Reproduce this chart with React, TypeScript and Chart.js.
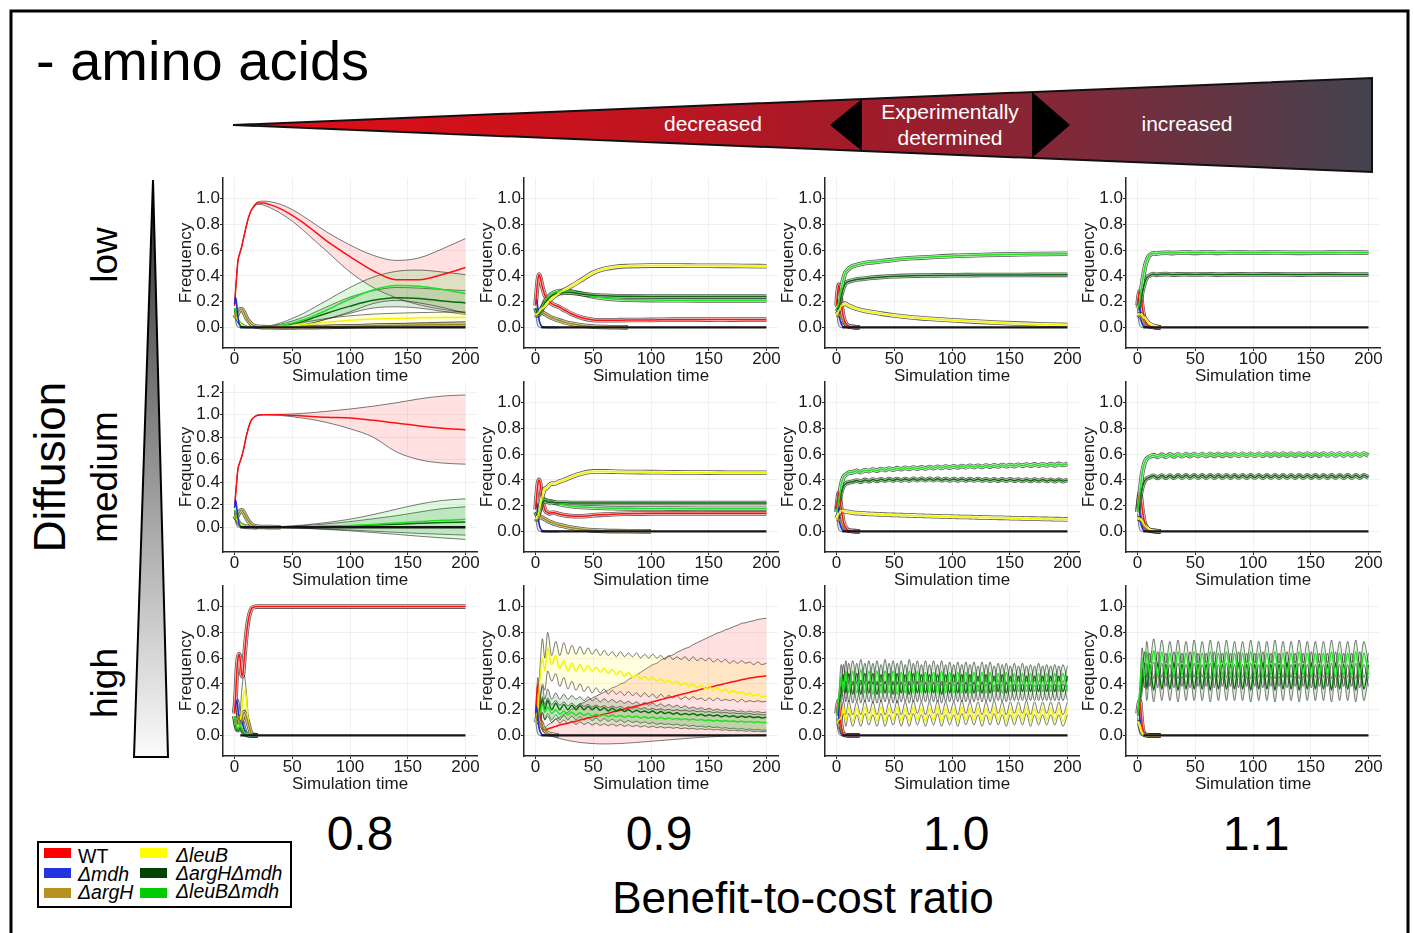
import React, { useEffect, useRef } from 'react';
import { Chart, registerables } from 'chart.js';

Chart.register(...registerables);

const FONT = 'Arial, "Liberation Sans", Helvetica, sans-serif';
Chart.defaults.font.family = FONT;

// ---------- tick labels ----------
const X_TICKS = [0, 50, 100, 150, 200];
const Y_TICKS = [0, 0.2, 0.4, 0.6, 0.8, 1.0];
const Y_TICKS_TALL = [0, 0.2, 0.4, 0.6, 0.8, 1.0, 1.2];
const RATIOS = ['0.8', '0.9', '1.0', '1.1'];
const DIFFUSION = ['low', 'medium', 'high'];

// ---------- time grids ----------
const TS = [0, 1, 2, 3, 4, 5, 6, 7, 8, 9, 10, 12, 14, 16, 20, 25, 30, 40, 50, 60, 70, 80, 100, 120, 140, 160, 180, 200];
const TE = [0, 1, 2, 3, 4, 5, 6, 8, 10, 15, 20];
const TO = [0, 2, 4, 6, 8, 10.5, 14, 17.5, 21, 24.5, 28, 31.5, 35, 38.5, 42, 45.5, 49, 52.5, 56, 59.5,
  63, 66.5, 70, 73.5, 77, 80.5, 84, 87.5, 91, 94.5, 98, 101.5, 105, 108.5, 112, 115.5, 119, 122.5, 126, 129.5,
  133, 136.5, 140, 143.5, 147, 150.5, 154, 157.5, 161, 164.5, 168, 171.5, 175, 178.5, 182, 185.5, 189, 192.5, 196, 200];

// extinct strains sit at frequency 0 once they have died out
const EXTINCT_T = [5, 200];
const EXTINCT = [0, 0];

// ---------- strains ----------
const STRAINS = ['WT', 'Δmdh', 'ΔargH', 'ΔleuB', 'ΔargHΔmdh', 'ΔleuBΔmdh'];
const LEGEND_COLORS = ['#ff0000', '#2233e0', '#b8911e', '#ffff00', '#004400', '#00cc00'];
const COLORS: Record<string, string> = { WT: '#ff1010', MD: '#1d2de0', AH: '#9c8a18', LB: '#f4f400', AM: '#0b6a0b', LM: '#22e022', Z: '#151515' };
const FILLS: Record<string, string> = { WT: 'rgba(255,40,40,0.14)', MD: 'rgba(30,50,230,0.12)', AH: 'rgba(170,140,30,0.14)', LB: 'rgba(255,255,0,0.13)', AM: 'rgba(0,110,0,0.14)', LM: 'rgba(0,210,0,0.13)' };
const TINTS: Record<string, string> = { WT: '#ffcccc', MD: '#c8ccff', AH: '#e2d9a6', LB: '#fffcc0', AM: '#b4d4b4', LM: '#c0f6c0' };

// ---------- shared early-dying series (TE grid) ----------
const MD_TE = [0.18, 0.22, 0.14, 0.06, 0.03, 0.012, 0.005, 0.001, 0, 0, 0];
const MD_TE_HI = [0.18, 0.235, 0.15, 0.07, 0.035, 0.014, 0.006, 0.001, 0, 0, 0];
const MD_TE_LO = [0.14, 0.05, 0.012, 0.003, 0, 0, 0, 0, 0, 0, 0];

// ---------- panel A: low diffusion, 0.8 ----------
const A_WT = [0.17, 0.3, 0.42, 0.52, 0.56, 0.59, 0.62, 0.66, 0.7, 0.74, 0.78, 0.85, 0.9, 0.93, 0.965, 0.965, 0.955, 0.92, 0.87, 0.81, 0.74, 0.67, 0.55, 0.44, 0.37, 0.37, 0.41, 0.465];
const A_WT_HI = [0.17, 0.3, 0.42, 0.52, 0.56, 0.59, 0.62, 0.66, 0.7, 0.74, 0.78, 0.85, 0.9, 0.935, 0.975, 0.98, 0.977, 0.955, 0.915, 0.86, 0.8, 0.74, 0.64, 0.56, 0.52, 0.54, 0.61, 0.69];
const A_WT_LO = [0.17, 0.3, 0.42, 0.52, 0.56, 0.59, 0.62, 0.66, 0.7, 0.74, 0.78, 0.85, 0.9, 0.925, 0.955, 0.95, 0.933, 0.885, 0.825, 0.75, 0.67, 0.59, 0.43, 0.31, 0.23, 0.175, 0.14, 0.115];
const A_LM = [0.15, 0.12, 0.08, 0.06, 0.05, 0.04, 0.03, 0.025, 0.02, 0.015, 0.01, 0.007, 0.005, 0.004, 0.003, 0.003, 0.005, 0.014, 0.033, 0.06, 0.095, 0.135, 0.22, 0.29, 0.325, 0.32, 0.295, 0.262];
const A_LM_HI = [0.15, 0.12, 0.08, 0.06, 0.05, 0.04, 0.03, 0.025, 0.02, 0.015, 0.01, 0.007, 0.005, 0.004, 0.004, 0.006, 0.012, 0.035, 0.07, 0.11, 0.16, 0.21, 0.31, 0.39, 0.435, 0.445, 0.43, 0.41];
const A_LM_LO = [0.15, 0.12, 0.08, 0.06, 0.05, 0.04, 0.03, 0.025, 0.02, 0.015, 0.01, 0.007, 0.005, 0.004, 0.002, 0.001, 0.001, 0.004, 0.01, 0.02, 0.04, 0.065, 0.12, 0.185, 0.21, 0.19, 0.155, 0.11];
const A_AM = [0.15, 0.1, 0.06, 0.04, 0.03, 0.02, 0.015, 0.01, 0.008, 0.006, 0.005, 0.004, 0.003, 0.003, 0.002, 0.003, 0.005, 0.012, 0.03, 0.05, 0.08, 0.11, 0.165, 0.21, 0.23, 0.225, 0.205, 0.19];
const A_AM_HI = [0.15, 0.1, 0.06, 0.04, 0.03, 0.02, 0.015, 0.01, 0.008, 0.006, 0.005, 0.004, 0.003, 0.003, 0.003, 0.005, 0.01, 0.025, 0.05, 0.08, 0.12, 0.16, 0.235, 0.285, 0.31, 0.305, 0.295, 0.285];
const A_AM_LO = [0.15, 0.1, 0.06, 0.04, 0.03, 0.02, 0.015, 0.01, 0.008, 0.006, 0.005, 0.004, 0.003, 0.003, 0.001, 0.001, 0.001, 0.003, 0.01, 0.02, 0.04, 0.065, 0.11, 0.15, 0.16, 0.15, 0.125, 0.1];
const A_LB = [0.1, 0.09, 0.07, 0.05, 0.04, 0.03, 0.02, 0.015, 0.01, 0.008, 0.006, 0.004, 0.003, 0.002, 0.002, 0.002, 0.003, 0.006, 0.012, 0.02, 0.03, 0.04, 0.055, 0.065, 0.07, 0.074, 0.077, 0.078];
const A_LB_HI = [0.1, 0.09, 0.07, 0.05, 0.04, 0.03, 0.02, 0.015, 0.01, 0.008, 0.006, 0.004, 0.003, 0.002, 0.003, 0.004, 0.006, 0.012, 0.025, 0.04, 0.055, 0.07, 0.09, 0.103, 0.11, 0.115, 0.118, 0.12];
const A_LB_LO = [0.1, 0.09, 0.07, 0.05, 0.04, 0.03, 0.02, 0.015, 0.01, 0.008, 0.006, 0.004, 0.003, 0.002, 0.001, 0.001, 0.001, 0.002, 0.004, 0.006, 0.01, 0.014, 0.02, 0.025, 0.03, 0.035, 0.04, 0.045];
const A_AH = [0.1, 0.085, 0.09, 0.11, 0.13, 0.14, 0.14, 0.135, 0.12, 0.1, 0.08, 0.05, 0.03, 0.015, 0.005, 0.002, 0.001, 0, 0, 0.001, 0.002, 0.004, 0.008, 0.012, 0.015, 0.018, 0.02, 0.021];
const A_MD = [0.18, 0.23, 0.17, 0.08, 0.03, 0.01, 0.004, 0.001, 0, 0, 0];

// ---------- panel B: low diffusion, 0.9 ----------
const B_LB = [0.1, 0.1, 0.11, 0.12, 0.13, 0.14, 0.15, 0.16, 0.17, 0.18, 0.19, 0.21, 0.225, 0.24, 0.265, 0.29, 0.315, 0.37, 0.425, 0.455, 0.47, 0.476, 0.48, 0.48, 0.479, 0.478, 0.477, 0.475];
const B_LM = [0.15, 0.13, 0.11, 0.11, 0.12, 0.14, 0.16, 0.18, 0.2, 0.215, 0.225, 0.245, 0.26, 0.27, 0.28, 0.285, 0.28, 0.26, 0.24, 0.226, 0.218, 0.215, 0.212, 0.211, 0.21, 0.21, 0.21, 0.21];
const B_AM = [0.15, 0.12, 0.1, 0.1, 0.11, 0.13, 0.15, 0.17, 0.19, 0.2, 0.21, 0.23, 0.245, 0.255, 0.265, 0.27, 0.27, 0.26, 0.25, 0.245, 0.242, 0.241, 0.24, 0.24, 0.24, 0.24, 0.24, 0.24];
const B_WT = [0.17, 0.28, 0.37, 0.41, 0.39, 0.35, 0.31, 0.28, 0.25, 0.235, 0.22, 0.2, 0.185, 0.175, 0.16, 0.135, 0.11, 0.075, 0.058, 0.055, 0.056, 0.057, 0.058, 0.06, 0.06, 0.061, 0.06, 0.06];
const B_AH = [0.1, 0.09, 0.09, 0.1, 0.11, 0.115, 0.115, 0.11, 0.105, 0.1, 0.095, 0.085, 0.075, 0.068, 0.055, 0.042, 0.03, 0.015, 0.007, 0.003, 0.001, 0];

// ---------- panel C: low diffusion, 1.0 ----------
const C_LM = [0.15, 0.16, 0.2, 0.25, 0.3, 0.34, 0.38, 0.41, 0.43, 0.44, 0.45, 0.465, 0.475, 0.48, 0.49, 0.5, 0.505, 0.515, 0.525, 0.535, 0.54, 0.545, 0.555, 0.56, 0.565, 0.568, 0.57, 0.572];
const C_AM = [0.15, 0.14, 0.16, 0.2, 0.25, 0.28, 0.31, 0.33, 0.345, 0.35, 0.355, 0.36, 0.365, 0.37, 0.375, 0.38, 0.385, 0.392, 0.397, 0.4, 0.402, 0.403, 0.405, 0.406, 0.407, 0.407, 0.408, 0.408];
const C_LB = [0.1, 0.11, 0.13, 0.15, 0.165, 0.175, 0.18, 0.185, 0.183, 0.178, 0.172, 0.163, 0.155, 0.148, 0.138, 0.128, 0.12, 0.105, 0.093, 0.083, 0.074, 0.067, 0.055, 0.045, 0.036, 0.029, 0.023, 0.018];
const C_WT = [0.17, 0.28, 0.33, 0.28, 0.2, 0.13, 0.08, 0.03, 0.012, 0.002, 0];
const C_AH = [0.1, 0.1, 0.1, 0.09, 0.075, 0.06, 0.045, 0.025, 0.012, 0.003, 0];

// ---------- panel D: low diffusion, 1.1 ----------
const D_LM = [0.15, 0.17, 0.22, 0.28, 0.34, 0.4, 0.45, 0.49, 0.52, 0.54, 0.555, 0.57, 0.576, 0.572, 0.578, 0.58, 0.577, 0.582, 0.579, 0.582, 0.579, 0.581, 0.58, 0.581, 0.579, 0.58, 0.581, 0.58];
const D_AM = [0.15, 0.15, 0.18, 0.22, 0.27, 0.31, 0.34, 0.37, 0.385, 0.395, 0.4, 0.41, 0.414, 0.408, 0.412, 0.414, 0.41, 0.413, 0.411, 0.413, 0.41, 0.412, 0.411, 0.412, 0.41, 0.412, 0.411, 0.411];
const D_WT = [0.17, 0.25, 0.28, 0.24, 0.17, 0.11, 0.07, 0.03, 0.012, 0.002, 0];
const D_LB = [0.1, 0.1, 0.1, 0.1, 0.095, 0.085, 0.075, 0.05, 0.03, 0.008, 0];
const D_AH = [0.1, 0.095, 0.09, 0.08, 0.065, 0.05, 0.04, 0.02, 0.01, 0.002, 0];

// ---------- panel E: medium diffusion, 0.8 ----------
const E_WT = [0.17, 0.3, 0.42, 0.52, 0.56, 0.59, 0.62, 0.66, 0.7, 0.75, 0.8, 0.88, 0.94, 0.97, 0.995, 1, 1, 0.998, 0.993, 0.988, 0.982, 0.976, 0.97, 0.95, 0.925, 0.9, 0.88, 0.866];
const E_WT_HI = [0.17, 0.3, 0.42, 0.52, 0.56, 0.59, 0.62, 0.66, 0.7, 0.75, 0.8, 0.88, 0.94, 0.97, 0.997, 1.001, 1.002, 1.003, 1.006, 1.012, 1.02, 1.03, 1.05, 1.075, 1.105, 1.14, 1.165, 1.175];
const E_WT_LO = [0.17, 0.3, 0.42, 0.52, 0.56, 0.59, 0.62, 0.66, 0.7, 0.75, 0.8, 0.88, 0.94, 0.97, 0.993, 0.999, 0.998, 0.993, 0.982, 0.968, 0.952, 0.93, 0.875, 0.8, 0.67, 0.6, 0.57, 0.56];
const E_LM = [0.15, 0.12, 0.08, 0.06, 0.05, 0.04, 0.03, 0.025, 0.02, 0.015, 0.01, 0.007, 0.005, 0.003, 0.002, 0.001, 0.001, 0.001, 0.002, 0.003, 0.005, 0.008, 0.015, 0.025, 0.038, 0.05, 0.062, 0.07];
const E_LM_HI = [0.15, 0.12, 0.08, 0.06, 0.05, 0.04, 0.03, 0.025, 0.02, 0.015, 0.01, 0.007, 0.005, 0.003, 0.002, 0.002, 0.003, 0.006, 0.012, 0.02, 0.03, 0.042, 0.072, 0.112, 0.16, 0.205, 0.238, 0.252];
const E_LM_LO = [0.15, 0.12, 0.08, 0.06, 0.05, 0.04, 0.03, 0.025, 0.02, 0.015, 0.01, 0.007, 0.005, 0.003, 0.002, 0, -0.001, -0.003, -0.006, -0.01, -0.015, -0.02, -0.032, -0.047, -0.063, -0.08, -0.095, -0.108];
const E_AM = [0.15, 0.1, 0.06, 0.04, 0.03, 0.02, 0.015, 0.01, 0.008, 0.006, 0.005, 0.004, 0.003, 0.002, 0.001, 0.001, 0.001, 0.001, 0.002, 0.003, 0.005, 0.007, 0.012, 0.019, 0.027, 0.035, 0.042, 0.046];
const E_AM_HI = [0.15, 0.1, 0.06, 0.04, 0.03, 0.02, 0.015, 0.01, 0.008, 0.006, 0.005, 0.004, 0.003, 0.002, 0.002, 0.002, 0.003, 0.005, 0.009, 0.015, 0.022, 0.03, 0.05, 0.075, 0.102, 0.135, 0.165, 0.182];
const E_AM_LO = [0.15, 0.1, 0.06, 0.04, 0.03, 0.02, 0.015, 0.01, 0.008, 0.006, 0.005, 0.004, 0.003, 0.002, 0, 0, -0.001, -0.003, -0.005, -0.008, -0.012, -0.016, -0.025, -0.035, -0.045, -0.055, -0.063, -0.07];
const E_LB = [0.1, 0.09, 0.07, 0.05, 0.035, 0.025, 0.02, 0.015, 0.01, 0.007, 0.005, 0.003, 0.002, 0.001, 0];
const E_AH = [0.1, 0.085, 0.09, 0.11, 0.13, 0.145, 0.15, 0.145, 0.13, 0.11, 0.09, 0.055, 0.03, 0.015, 0.005, 0.002, 0.001, 0];
const E_MD = [0.18, 0.24, 0.17, 0.08, 0.03, 0.01, 0.004, 0.001, 0, 0, 0];

// ---------- panel F: medium diffusion, 0.9 ----------
const F_LB = [0.1, 0.1, 0.12, 0.15, 0.19, 0.24, 0.28, 0.31, 0.33, 0.335, 0.34, 0.36, 0.372, 0.37, 0.385, 0.4, 0.42, 0.45, 0.466, 0.466, 0.463, 0.461, 0.46, 0.458, 0.457, 0.456, 0.455, 0.455];
const F_AM = [0.15, 0.13, 0.12, 0.14, 0.17, 0.2, 0.22, 0.235, 0.24, 0.235, 0.23, 0.225, 0.228, 0.224, 0.222, 0.222, 0.221, 0.22, 0.22, 0.22, 0.22, 0.22, 0.22, 0.22, 0.22, 0.22, 0.22, 0.22];
const F_LM = [0.15, 0.14, 0.14, 0.16, 0.19, 0.22, 0.24, 0.25, 0.245, 0.24, 0.235, 0.235, 0.23, 0.225, 0.215, 0.205, 0.198, 0.19, 0.185, 0.182, 0.18, 0.179, 0.178, 0.177, 0.176, 0.175, 0.175, 0.175];
const F_WT = [0.17, 0.28, 0.37, 0.4, 0.37, 0.3, 0.24, 0.2, 0.17, 0.155, 0.15, 0.14, 0.145, 0.145, 0.135, 0.125, 0.12, 0.118, 0.125, 0.13, 0.135, 0.137, 0.14, 0.14, 0.14, 0.14, 0.14, 0.14];
const F_AH = [0.1, 0.09, 0.1, 0.11, 0.115, 0.11, 0.105, 0.1, 0.095, 0.09, 0.085, 0.075, 0.068, 0.06, 0.05, 0.04, 0.03, 0.017, 0.008, 0.004, 0.002, 0.001, 0];

// ---------- panel G: medium diffusion, 1.0 (TO grid) ----------
const G_LM = [0.15, 0.24, 0.36, 0.42, 0.44, 0.455, 0.46, 0.47, 0.46, 0.475,
  0.468, 0.48, 0.472, 0.485, 0.476, 0.488, 0.479, 0.491, 0.482, 0.494,
  0.485, 0.496, 0.487, 0.498, 0.489, 0.5, 0.491, 0.502, 0.493, 0.504,
  0.495, 0.506, 0.497, 0.507, 0.498, 0.509, 0.5, 0.51, 0.501, 0.512,
  0.503, 0.513, 0.504, 0.515, 0.506, 0.516, 0.507, 0.518, 0.509, 0.519,
  0.51, 0.52, 0.511, 0.521, 0.512, 0.523, 0.513, 0.524, 0.515, 0.525];
const G_AM = [0.15, 0.22, 0.3, 0.35, 0.37, 0.38, 0.385, 0.395, 0.385, 0.4,
  0.39, 0.403, 0.392, 0.405, 0.394, 0.406, 0.395, 0.407, 0.396, 0.407,
  0.396, 0.408, 0.397, 0.408, 0.397, 0.408, 0.397, 0.408, 0.397, 0.407,
  0.396, 0.407, 0.396, 0.407, 0.396, 0.406, 0.395, 0.406, 0.395, 0.405,
  0.394, 0.405, 0.394, 0.404, 0.393, 0.404, 0.393, 0.403, 0.392, 0.403,
  0.392, 0.402, 0.391, 0.402, 0.391, 0.401, 0.39, 0.401, 0.39, 0.4];
const G_LB = [0.1, 0.14, 0.16, 0.158, 0.155, 0.15, 0.145, 0.142, 0.14, 0.138,
  0.136, 0.135, 0.133, 0.132, 0.13, 0.129, 0.128, 0.127, 0.126, 0.125,
  0.124, 0.123, 0.122, 0.121, 0.12, 0.119, 0.118, 0.117, 0.116, 0.116,
  0.115, 0.114, 0.113, 0.112, 0.112, 0.111, 0.11, 0.109, 0.108, 0.108,
  0.107, 0.106, 0.105, 0.105, 0.104, 0.103, 0.102, 0.102, 0.101, 0.1,
  0.099, 0.099, 0.098, 0.097, 0.097, 0.096, 0.095, 0.095, 0.094, 0.093];
const GH_WT = [0.17, 0.25, 0.3, 0.26, 0.18, 0.12, 0.07, 0.03, 0.01, 0.002, 0];
const GH_AH = [0.1, 0.1, 0.095, 0.085, 0.07, 0.055, 0.04, 0.02, 0.008, 0.002, 0];

// ---------- panel H: medium diffusion, 1.1 (TO grid) ----------
const H_LM = [0.15, 0.3, 0.45, 0.53, 0.565, 0.58, 0.592, 0.578, 0.596, 0.58,
  0.598, 0.582, 0.599, 0.583, 0.6, 0.584, 0.601, 0.585, 0.601, 0.585,
  0.602, 0.586, 0.602, 0.586, 0.602, 0.586, 0.603, 0.587, 0.603, 0.587,
  0.603, 0.587, 0.603, 0.587, 0.604, 0.588, 0.604, 0.588, 0.604, 0.588,
  0.604, 0.588, 0.604, 0.588, 0.604, 0.588, 0.604, 0.588, 0.605, 0.589,
  0.605, 0.589, 0.605, 0.589, 0.605, 0.589, 0.605, 0.589, 0.605, 0.589];
const H_AM = [0.15, 0.25, 0.34, 0.39, 0.41, 0.42, 0.432, 0.415, 0.434, 0.416,
  0.434, 0.416, 0.435, 0.417, 0.435, 0.417, 0.435, 0.417, 0.436, 0.417,
  0.435, 0.417, 0.436, 0.418, 0.435, 0.417, 0.436, 0.418, 0.435, 0.417,
  0.436, 0.418, 0.435, 0.417, 0.436, 0.418, 0.435, 0.417, 0.436, 0.418,
  0.435, 0.417, 0.436, 0.418, 0.435, 0.417, 0.436, 0.418, 0.435, 0.417,
  0.436, 0.418, 0.435, 0.417, 0.436, 0.418, 0.435, 0.417, 0.436, 0.418];
const H_LB = [0.1, 0.1, 0.1, 0.09, 0.08, 0.065, 0.05, 0.03, 0.015, 0.003, 0];

// ---------- panel I: high diffusion, 0.8 ----------
const I_WT = [0.17, 0.32, 0.5, 0.6, 0.63, 0.58, 0.48, 0.46, 0.55, 0.66, 0.76, 0.9, 0.97, 0.995, 1, 1, 1, 1, 1, 1, 1, 1, 1, 1, 1, 1, 1, 1];
const I_LB = [0.1, 0.08, 0.06, 0.06, 0.08, 0.12, 0.18, 0.26, 0.32, 0.35, 0.3, 0.1, 0.02, 0.005, 0];
const I_LB_HI = [0.1, 0.08, 0.07, 0.08, 0.12, 0.2, 0.32, 0.42, 0.47, 0.44, 0.36, 0.14, 0.03, 0.008, 0];
const I_LB_LO = [0.1, 0.08, 0.05, 0.04, 0.04, 0.05, 0.07, 0.1, 0.15, 0.2, 0.18, 0.05, 0.01, 0, 0];
const I_MD = [0.18, 0.24, 0.27, 0.2, 0.12, 0.1, 0.12, 0.06, 0.01, 0, 0];
const I_AH = [0.1, 0.1, 0.12, 0.15, 0.12, 0.08, 0.1, 0.18, 0.15, 0.01, 0];
const I_LM = [0.15, 0.1, 0.06, 0.05, 0.07, 0.08, 0.06, 0.03, 0.01, 0, 0];
const I_AM = [0.15, 0.08, 0.05, 0.04, 0.05, 0.06, 0.05, 0.02, 0.005, 0, 0];

// ---------- panel J: high diffusion, 0.9 (TO grid) ----------
const J_WT = [0.17, 0.4, 0.2, 0.06, 0.04, 0.05, 0.06, 0.07, 0.08, 0.088,
  0.095, 0.104, 0.11, 0.12, 0.126, 0.135, 0.142, 0.15, 0.157, 0.166,
  0.172, 0.181, 0.188, 0.196, 0.204, 0.212, 0.22, 0.229, 0.236, 0.245,
  0.252, 0.262, 0.269, 0.278, 0.285, 0.294, 0.301, 0.31, 0.317, 0.326,
  0.333, 0.342, 0.349, 0.358, 0.365, 0.373, 0.38, 0.389, 0.395, 0.404,
  0.41, 0.418, 0.424, 0.432, 0.438, 0.445, 0.45, 0.455, 0.458, 0.462];
const J_WT_HI = [0.17, 0.45, 0.25, 0.08, 0.06, 0.08, 0.1, 0.125, 0.14, 0.165,
  0.18, 0.205, 0.22, 0.245, 0.255, 0.275, 0.29, 0.305, 0.32, 0.335,
  0.35, 0.37, 0.38, 0.4, 0.41, 0.435, 0.45, 0.47, 0.49, 0.51,
  0.53, 0.55, 0.56, 0.585, 0.6, 0.615, 0.625, 0.645, 0.66, 0.675,
  0.685, 0.705, 0.72, 0.735, 0.75, 0.765, 0.78, 0.795, 0.805, 0.82,
  0.83, 0.845, 0.855, 0.87, 0.875, 0.885, 0.89, 0.9, 0.905, 0.91];
const J_WT_LO = [0.17, 0.35, 0.15, 0.04, 0.02, 0.01, -0.005, -0.015, -0.025, -0.032,
  -0.04, -0.045, -0.05, -0.055, -0.058, -0.061, -0.063, -0.065, -0.066, -0.066,
  -0.066, -0.065, -0.064, -0.063, -0.061, -0.059, -0.057, -0.055, -0.052, -0.05,
  -0.047, -0.045, -0.042, -0.04, -0.037, -0.035, -0.032, -0.03, -0.027, -0.025,
  -0.022, -0.02, -0.018, -0.016, -0.014, -0.012, -0.01, -0.009, -0.007, -0.006,
  -0.005, -0.004, -0.003, -0.002, -0.001, 0, 0, 0.001, 0.001, 0.002];
const J_LB = [0.1, 0.2, 0.45, 0.6, 0.5, 0.68, 0.55, 0.62, 0.52, 0.58,
  0.5, 0.56, 0.5, 0.55, 0.5, 0.54, 0.5, 0.53, 0.49, 0.52,
  0.48, 0.51, 0.47, 0.5, 0.46, 0.49, 0.45, 0.47, 0.44, 0.46,
  0.43, 0.45, 0.42, 0.44, 0.41, 0.43, 0.4, 0.42, 0.39, 0.41,
  0.38, 0.4, 0.37, 0.39, 0.36, 0.38, 0.35, 0.37, 0.34, 0.36,
  0.33, 0.35, 0.325, 0.34, 0.315, 0.33, 0.305, 0.32, 0.3, 0.305];
const J_LB_HI = [0.1, 0.25, 0.55, 0.75, 0.6, 0.8, 0.62, 0.73, 0.62, 0.72,
  0.63, 0.7, 0.63, 0.69, 0.63, 0.68, 0.63, 0.67, 0.62, 0.66,
  0.62, 0.65, 0.61, 0.65, 0.61, 0.64, 0.61, 0.64, 0.6, 0.63,
  0.6, 0.63, 0.6, 0.62, 0.59, 0.62, 0.59, 0.61, 0.59, 0.61,
  0.58, 0.61, 0.58, 0.6, 0.58, 0.6, 0.57, 0.59, 0.57, 0.59,
  0.56, 0.58, 0.56, 0.58, 0.56, 0.57, 0.55, 0.57, 0.55, 0.56];
const J_LB_LO = [0.1, 0.15, 0.3, 0.4, 0.35, 0.5, 0.42, 0.48, 0.38, 0.45,
  0.36, 0.42, 0.35, 0.4, 0.34, 0.38, 0.33, 0.37, 0.33, 0.36,
  0.32, 0.35, 0.32, 0.34, 0.31, 0.34, 0.31, 0.33, 0.3, 0.33,
  0.3, 0.32, 0.29, 0.32, 0.29, 0.31, 0.29, 0.31, 0.28, 0.3,
  0.28, 0.3, 0.28, 0.29, 0.27, 0.29, 0.27, 0.29, 0.27, 0.28,
  0.27, 0.28, 0.26, 0.28, 0.26, 0.27, 0.26, 0.27, 0.26, 0.265];
const J_AM = [0.15, 0.12, 0.2, 0.28, 0.2, 0.27, 0.2, 0.25, 0.2, 0.24,
  0.2, 0.235, 0.2, 0.23, 0.2, 0.225, 0.2, 0.22, 0.195, 0.215,
  0.19, 0.21, 0.19, 0.205, 0.185, 0.2, 0.18, 0.195, 0.18, 0.19,
  0.175, 0.19, 0.17, 0.185, 0.17, 0.18, 0.165, 0.175, 0.16, 0.17,
  0.16, 0.17, 0.155, 0.165, 0.15, 0.16, 0.15, 0.158, 0.145, 0.155,
  0.145, 0.152, 0.14, 0.15, 0.14, 0.148, 0.138, 0.145, 0.136, 0.14];
const J_AM_HI = [0.15, 0.15, 0.28, 0.38, 0.28, 0.36, 0.28, 0.33, 0.28, 0.32,
  0.28, 0.31, 0.28, 0.3, 0.27, 0.3, 0.27, 0.29, 0.26, 0.285,
  0.26, 0.28, 0.255, 0.27, 0.25, 0.265, 0.245, 0.26, 0.24, 0.255,
  0.235, 0.25, 0.23, 0.245, 0.225, 0.24, 0.22, 0.235, 0.215, 0.23,
  0.21, 0.22, 0.205, 0.215, 0.2, 0.21, 0.195, 0.205, 0.19, 0.2,
  0.19, 0.195, 0.185, 0.19, 0.18, 0.19, 0.18, 0.185, 0.178, 0.18];
const J_AM_LO = [0.15, 0.09, 0.12, 0.18, 0.12, 0.17, 0.12, 0.16, 0.12, 0.155,
  0.12, 0.15, 0.12, 0.145, 0.12, 0.14, 0.115, 0.135, 0.11, 0.13,
  0.11, 0.125, 0.105, 0.12, 0.1, 0.115, 0.1, 0.11, 0.095, 0.105,
  0.09, 0.1, 0.085, 0.095, 0.085, 0.09, 0.08, 0.088, 0.075, 0.083,
  0.07, 0.078, 0.068, 0.073, 0.063, 0.07, 0.06, 0.065, 0.055, 0.06,
  0.052, 0.056, 0.048, 0.053, 0.045, 0.05, 0.042, 0.046, 0.04, 0.042];
const J_LM = [0.15, 0.13, 0.18, 0.24, 0.18, 0.22, 0.17, 0.2, 0.165, 0.19,
  0.16, 0.18, 0.155, 0.175, 0.155, 0.17, 0.15, 0.165, 0.15, 0.16,
  0.145, 0.158, 0.145, 0.155, 0.14, 0.152, 0.14, 0.15, 0.135, 0.145,
  0.133, 0.142, 0.13, 0.14, 0.127, 0.135, 0.125, 0.132, 0.122, 0.13,
  0.12, 0.127, 0.117, 0.124, 0.115, 0.12, 0.112, 0.118, 0.11, 0.115,
  0.108, 0.112, 0.105, 0.11, 0.103, 0.107, 0.1, 0.105, 0.1, 0.1];
const J_LM_HI = [0.15, 0.16, 0.24, 0.3, 0.24, 0.29, 0.24, 0.27, 0.235, 0.26,
  0.23, 0.25, 0.225, 0.245, 0.225, 0.24, 0.22, 0.235, 0.22, 0.23,
  0.215, 0.228, 0.215, 0.225, 0.21, 0.222, 0.21, 0.22, 0.205, 0.215,
  0.2, 0.21, 0.198, 0.207, 0.195, 0.203, 0.192, 0.2, 0.19, 0.197,
  0.187, 0.194, 0.184, 0.19, 0.18, 0.186, 0.177, 0.183, 0.174, 0.18,
  0.171, 0.176, 0.168, 0.173, 0.165, 0.17, 0.162, 0.166, 0.16, 0.16];
const J_LM_LO = [0.15, 0.1, 0.12, 0.17, 0.12, 0.15, 0.1, 0.13, 0.095, 0.12,
  0.09, 0.11, 0.085, 0.105, 0.085, 0.1, 0.08, 0.095, 0.078, 0.09,
  0.075, 0.088, 0.073, 0.085, 0.07, 0.082, 0.068, 0.078, 0.065, 0.075,
  0.062, 0.072, 0.06, 0.068, 0.057, 0.065, 0.055, 0.062, 0.052, 0.058,
  0.05, 0.055, 0.047, 0.052, 0.045, 0.05, 0.042, 0.047, 0.04, 0.044,
  0.037, 0.041, 0.035, 0.038, 0.032, 0.036, 0.03, 0.033, 0.028, 0.03];
const J_AH = [0.1, 0.12, 0.18, 0.12, 0.08, 0.1, 0.07, 0.04, 0.02, 0.005, 0];

// ---------- panel K: high diffusion, 1.0 (TO grid) ----------
const K_LM = [0.15, 0.3, 0.46, 0.34, 0.5, 0.33, 0.5, 0.33, 0.51, 0.33,
  0.5, 0.32, 0.5, 0.33, 0.5, 0.33, 0.5, 0.32, 0.49, 0.33,
  0.5, 0.33, 0.5, 0.33, 0.49, 0.33, 0.49, 0.33, 0.5, 0.33,
  0.49, 0.33, 0.49, 0.33, 0.49, 0.33, 0.49, 0.34, 0.49, 0.33,
  0.49, 0.34, 0.48, 0.33, 0.49, 0.34, 0.48, 0.34, 0.48, 0.34,
  0.48, 0.34, 0.48, 0.34, 0.48, 0.34, 0.48, 0.34, 0.48, 0.34];
const K_LM_HI = [0.15, 0.32, 0.55, 0.42, 0.58, 0.41, 0.58, 0.41, 0.59, 0.41,
  0.58, 0.4, 0.58, 0.41, 0.59, 0.41, 0.58, 0.4, 0.58, 0.41,
  0.59, 0.41, 0.58, 0.41, 0.58, 0.41, 0.58, 0.41, 0.58, 0.41,
  0.57, 0.41, 0.57, 0.41, 0.57, 0.41, 0.57, 0.42, 0.57, 0.41,
  0.57, 0.42, 0.56, 0.41, 0.56, 0.42, 0.56, 0.42, 0.56, 0.42,
  0.55, 0.42, 0.56, 0.42, 0.55, 0.42, 0.55, 0.42, 0.55, 0.42];
const K_LM_LO = [0.15, 0.28, 0.38, 0.27, 0.42, 0.26, 0.42, 0.26, 0.43, 0.26,
  0.42, 0.25, 0.42, 0.26, 0.42, 0.26, 0.42, 0.25, 0.41, 0.26,
  0.42, 0.26, 0.42, 0.26, 0.41, 0.26, 0.41, 0.26, 0.42, 0.26,
  0.41, 0.26, 0.41, 0.26, 0.41, 0.26, 0.41, 0.27, 0.41, 0.26,
  0.41, 0.27, 0.4, 0.26, 0.41, 0.27, 0.4, 0.27, 0.4, 0.27,
  0.4, 0.27, 0.4, 0.27, 0.4, 0.27, 0.4, 0.27, 0.4, 0.27];
const K_AM = [0.15, 0.25, 0.33, 0.47, 0.33, 0.48, 0.32, 0.48, 0.32, 0.48,
  0.33, 0.48, 0.32, 0.47, 0.33, 0.48, 0.32, 0.48, 0.33, 0.47,
  0.32, 0.48, 0.33, 0.47, 0.33, 0.47, 0.33, 0.47, 0.32, 0.47,
  0.33, 0.47, 0.33, 0.47, 0.33, 0.47, 0.33, 0.46, 0.33, 0.47,
  0.33, 0.46, 0.34, 0.47, 0.33, 0.46, 0.34, 0.46, 0.34, 0.46,
  0.34, 0.46, 0.34, 0.46, 0.34, 0.46, 0.34, 0.46, 0.34, 0.46];
const K_AM_HI = [0.15, 0.28, 0.4, 0.55, 0.4, 0.56, 0.39, 0.56, 0.39, 0.56,
  0.4, 0.56, 0.39, 0.55, 0.4, 0.56, 0.39, 0.56, 0.4, 0.55,
  0.39, 0.56, 0.4, 0.55, 0.4, 0.55, 0.4, 0.55, 0.39, 0.55,
  0.4, 0.55, 0.4, 0.55, 0.4, 0.55, 0.4, 0.54, 0.4, 0.55,
  0.4, 0.54, 0.41, 0.55, 0.4, 0.54, 0.41, 0.54, 0.41, 0.54,
  0.41, 0.54, 0.41, 0.54, 0.41, 0.54, 0.41, 0.54, 0.41, 0.54];
const K_AM_LO = [0.15, 0.22, 0.27, 0.4, 0.26, 0.41, 0.25, 0.41, 0.25, 0.41,
  0.26, 0.41, 0.25, 0.4, 0.26, 0.41, 0.25, 0.41, 0.26, 0.4,
  0.25, 0.41, 0.26, 0.4, 0.26, 0.4, 0.26, 0.4, 0.25, 0.4,
  0.26, 0.4, 0.26, 0.4, 0.26, 0.4, 0.26, 0.39, 0.26, 0.4,
  0.26, 0.39, 0.27, 0.4, 0.26, 0.39, 0.27, 0.39, 0.27, 0.39,
  0.27, 0.39, 0.27, 0.39, 0.27, 0.39, 0.27, 0.39, 0.27, 0.39];
const K_LB = [0.1, 0.12, 0.14, 0.22, 0.11, 0.22, 0.11, 0.21, 0.11, 0.22,
  0.12, 0.21, 0.11, 0.22, 0.11, 0.21, 0.12, 0.22, 0.11, 0.21,
  0.11, 0.22, 0.12, 0.21, 0.11, 0.21, 0.12, 0.22, 0.11, 0.21,
  0.12, 0.21, 0.11, 0.22, 0.12, 0.21, 0.12, 0.21, 0.11, 0.21,
  0.12, 0.22, 0.12, 0.21, 0.11, 0.21, 0.12, 0.21, 0.12, 0.22,
  0.11, 0.21, 0.12, 0.21, 0.12, 0.21, 0.12, 0.21, 0.11, 0.21];
const K_LB_HI = [0.1, 0.14, 0.18, 0.27, 0.16, 0.27, 0.16, 0.26, 0.16, 0.27,
  0.17, 0.26, 0.16, 0.27, 0.16, 0.26, 0.17, 0.27, 0.16, 0.26,
  0.16, 0.27, 0.17, 0.26, 0.16, 0.26, 0.17, 0.27, 0.16, 0.26,
  0.17, 0.26, 0.16, 0.27, 0.17, 0.26, 0.17, 0.26, 0.16, 0.26,
  0.17, 0.27, 0.17, 0.26, 0.16, 0.26, 0.17, 0.26, 0.17, 0.27,
  0.16, 0.26, 0.17, 0.26, 0.17, 0.26, 0.17, 0.26, 0.16, 0.26];
const K_LB_LO = [0.1, 0.1, 0.1, 0.17, 0.07, 0.17, 0.07, 0.16, 0.07, 0.17,
  0.08, 0.16, 0.07, 0.17, 0.07, 0.16, 0.08, 0.17, 0.07, 0.16,
  0.07, 0.17, 0.08, 0.16, 0.07, 0.16, 0.08, 0.17, 0.07, 0.16,
  0.08, 0.16, 0.07, 0.17, 0.08, 0.16, 0.08, 0.16, 0.07, 0.16,
  0.08, 0.17, 0.08, 0.16, 0.07, 0.16, 0.08, 0.16, 0.08, 0.17,
  0.07, 0.16, 0.08, 0.16, 0.08, 0.16, 0.08, 0.16, 0.07, 0.16];
const KL_WT = [0.17, 0.24, 0.27, 0.18, 0.08, 0.03, 0.01, 0.002, 0, 0, 0];
const KL_AH = [0.1, 0.1, 0.09, 0.07, 0.04, 0.02, 0.01, 0.002, 0, 0, 0];
const L_LB = [0.1, 0.1, 0.08, 0.05, 0.025, 0.01, 0.004, 0.001, 0, 0, 0];

// ---------- panel L: high diffusion, 1.1 (TO grid) ----------
const L_LM = [0.15, 0.35, 0.6, 0.45, 0.65, 0.47, 0.66, 0.46, 0.65, 0.47,
  0.64, 0.46, 0.65, 0.47, 0.64, 0.46, 0.65, 0.47, 0.64, 0.47,
  0.65, 0.46, 0.64, 0.47, 0.65, 0.47, 0.64, 0.46, 0.64, 0.47,
  0.65, 0.47, 0.64, 0.46, 0.64, 0.47, 0.65, 0.47, 0.64, 0.46,
  0.64, 0.47, 0.65, 0.47, 0.64, 0.46, 0.64, 0.47, 0.64, 0.47,
  0.65, 0.46, 0.64, 0.47, 0.64, 0.47, 0.65, 0.46, 0.64, 0.47];
const L_LM_HI = [0.15, 0.38, 0.68, 0.53, 0.73, 0.56, 0.75, 0.55, 0.74, 0.56,
  0.73, 0.55, 0.74, 0.56, 0.73, 0.55, 0.74, 0.56, 0.73, 0.56,
  0.74, 0.55, 0.73, 0.56, 0.74, 0.56, 0.73, 0.55, 0.73, 0.56,
  0.74, 0.56, 0.73, 0.55, 0.73, 0.56, 0.74, 0.56, 0.73, 0.55,
  0.73, 0.56, 0.74, 0.56, 0.73, 0.55, 0.73, 0.56, 0.73, 0.56,
  0.74, 0.55, 0.73, 0.56, 0.73, 0.56, 0.74, 0.55, 0.73, 0.56];
const L_LM_LO = [0.15, 0.32, 0.52, 0.37, 0.56, 0.38, 0.57, 0.37, 0.56, 0.38,
  0.55, 0.37, 0.56, 0.38, 0.55, 0.37, 0.56, 0.38, 0.55, 0.38,
  0.56, 0.37, 0.55, 0.38, 0.56, 0.38, 0.55, 0.37, 0.55, 0.38,
  0.56, 0.38, 0.55, 0.37, 0.55, 0.38, 0.56, 0.38, 0.55, 0.37,
  0.55, 0.38, 0.56, 0.38, 0.55, 0.37, 0.55, 0.38, 0.55, 0.38,
  0.56, 0.37, 0.55, 0.38, 0.55, 0.38, 0.56, 0.37, 0.55, 0.38];
const L_AM = [0.15, 0.28, 0.4, 0.56, 0.36, 0.55, 0.35, 0.56, 0.36, 0.55,
  0.36, 0.56, 0.35, 0.55, 0.36, 0.56, 0.36, 0.55, 0.36, 0.55,
  0.35, 0.56, 0.36, 0.55, 0.36, 0.55, 0.36, 0.56, 0.36, 0.55,
  0.35, 0.55, 0.36, 0.56, 0.36, 0.55, 0.35, 0.55, 0.36, 0.56,
  0.36, 0.55, 0.35, 0.55, 0.36, 0.56, 0.36, 0.55, 0.36, 0.55,
  0.35, 0.56, 0.36, 0.55, 0.36, 0.55, 0.35, 0.56, 0.36, 0.55];
const L_AM_HI = [0.15, 0.31, 0.47, 0.65, 0.45, 0.64, 0.44, 0.65, 0.45, 0.64,
  0.45, 0.65, 0.44, 0.64, 0.45, 0.65, 0.45, 0.64, 0.45, 0.64,
  0.44, 0.65, 0.45, 0.64, 0.45, 0.64, 0.45, 0.65, 0.45, 0.64,
  0.44, 0.64, 0.45, 0.65, 0.45, 0.64, 0.44, 0.64, 0.45, 0.65,
  0.45, 0.64, 0.44, 0.64, 0.45, 0.65, 0.45, 0.64, 0.45, 0.64,
  0.44, 0.65, 0.45, 0.64, 0.45, 0.64, 0.44, 0.65, 0.45, 0.64];
const L_AM_LO = [0.15, 0.25, 0.33, 0.47, 0.27, 0.46, 0.26, 0.47, 0.27, 0.46,
  0.27, 0.47, 0.26, 0.46, 0.27, 0.47, 0.27, 0.46, 0.27, 0.46,
  0.26, 0.47, 0.27, 0.46, 0.27, 0.46, 0.27, 0.47, 0.27, 0.46,
  0.26, 0.46, 0.27, 0.47, 0.27, 0.46, 0.26, 0.46, 0.27, 0.47,
  0.27, 0.46, 0.26, 0.46, 0.27, 0.47, 0.27, 0.46, 0.27, 0.46,
  0.26, 0.47, 0.27, 0.46, 0.27, 0.46, 0.26, 0.47, 0.27, 0.46];

// ---------- panel definitions ----------
type Series = { k: string; t: number[]; m: number[]; hi?: number[]; lo?: number[]; halo?: boolean };
type PanelDef = { r: number; c: number; yMin: number; yMax: number; yTicks: number[]; series: Series[] };

const YMIN = -0.16, YMAX = 1.16;
const ZERO: Series = { k: 'Z', t: EXTINCT_T, m: EXTINCT };

const PANELS: PanelDef[] = [
  { r: 0, c: 0, yMin: YMIN, yMax: YMAX, yTicks: Y_TICKS, series: [
    { k: 'WT', t: TS, m: A_WT, hi: A_WT_HI, lo: A_WT_LO },
    { k: 'AM', t: TS, m: A_AM, hi: A_AM_HI, lo: A_AM_LO },
    { k: 'LM', t: TS, m: A_LM, hi: A_LM_HI, lo: A_LM_LO },
    { k: 'LB', t: TS, m: A_LB, hi: A_LB_HI, lo: A_LB_LO },
    { k: 'AH', t: TS, m: A_AH, halo: true },
    { k: 'MD', t: TE, m: A_MD, hi: MD_TE_HI, lo: MD_TE_LO },
    ZERO,
  ] },
  { r: 0, c: 1, yMin: YMIN, yMax: YMAX, yTicks: Y_TICKS, series: [
    { k: 'MD', t: TE, m: MD_TE, hi: MD_TE_HI, lo: MD_TE_LO },
    { k: 'AH', t: TS, m: B_AH, halo: true },
    { k: 'WT', t: TS, m: B_WT, halo: true },
    { k: 'LM', t: TS, m: B_LM, halo: true },
    { k: 'AM', t: TS, m: B_AM, halo: true },
    { k: 'LB', t: TS, m: B_LB, halo: true },
    ZERO,
  ] },
  { r: 0, c: 2, yMin: YMIN, yMax: YMAX, yTicks: Y_TICKS, series: [
    { k: 'MD', t: TE, m: MD_TE, hi: MD_TE_HI, lo: MD_TE_LO },
    { k: 'AH', t: TE, m: C_AH, halo: true },
    { k: 'WT', t: TE, m: C_WT, halo: true },
    { k: 'LB', t: TS, m: C_LB, halo: true },
    { k: 'AM', t: TS, m: C_AM, halo: true },
    { k: 'LM', t: TS, m: C_LM, halo: true },
    ZERO,
  ] },
  { r: 0, c: 3, yMin: YMIN, yMax: YMAX, yTicks: Y_TICKS, series: [
    { k: 'MD', t: TE, m: MD_TE, hi: MD_TE_HI, lo: MD_TE_LO },
    { k: 'AH', t: TE, m: D_AH, halo: true },
    { k: 'WT', t: TE, m: D_WT, halo: true },
    { k: 'LB', t: TE, m: D_LB, halo: true },
    { k: 'AM', t: TS, m: D_AM, halo: true },
    { k: 'LM', t: TS, m: D_LM, halo: true },
    ZERO,
  ] },
  { r: 1, c: 0, yMin: -0.22, yMax: 1.29, yTicks: Y_TICKS_TALL, series: [
    { k: 'WT', t: TS, m: E_WT, hi: E_WT_HI, lo: E_WT_LO },
    { k: 'AM', t: TS, m: E_AM, hi: E_AM_HI, lo: E_AM_LO },
    { k: 'LM', t: TS, m: E_LM, hi: E_LM_HI, lo: E_LM_LO },
    { k: 'LB', t: TS, m: E_LB, halo: true },
    { k: 'AH', t: TS, m: E_AH, halo: true },
    { k: 'MD', t: TE, m: E_MD, hi: MD_TE_HI, lo: MD_TE_LO },
    ZERO,
  ] },
  { r: 1, c: 1, yMin: YMIN, yMax: YMAX, yTicks: Y_TICKS, series: [
    { k: 'MD', t: TE, m: MD_TE, hi: MD_TE_HI, lo: MD_TE_LO },
    { k: 'AH', t: TS, m: F_AH, halo: true },
    { k: 'WT', t: TS, m: F_WT, halo: true },
    { k: 'LM', t: TS, m: F_LM, halo: true },
    { k: 'AM', t: TS, m: F_AM, halo: true },
    { k: 'LB', t: TS, m: F_LB, halo: true },
    ZERO,
  ] },
  { r: 1, c: 2, yMin: YMIN, yMax: YMAX, yTicks: Y_TICKS, series: [
    { k: 'MD', t: TE, m: MD_TE, hi: MD_TE_HI, lo: MD_TE_LO },
    { k: 'AH', t: TE, m: GH_AH, halo: true },
    { k: 'WT', t: TE, m: GH_WT, halo: true },
    { k: 'LB', t: TO, m: G_LB, halo: true },
    { k: 'AM', t: TO, m: G_AM, halo: true },
    { k: 'LM', t: TO, m: G_LM, halo: true },
    ZERO,
  ] },
  { r: 1, c: 3, yMin: YMIN, yMax: YMAX, yTicks: Y_TICKS, series: [
    { k: 'MD', t: TE, m: MD_TE, hi: MD_TE_HI, lo: MD_TE_LO },
    { k: 'AH', t: TE, m: GH_AH, halo: true },
    { k: 'WT', t: TE, m: GH_WT, halo: true },
    { k: 'LB', t: TE, m: H_LB, halo: true },
    { k: 'AM', t: TO, m: H_AM, halo: true },
    { k: 'LM', t: TO, m: H_LM, halo: true },
    ZERO,
  ] },
  { r: 2, c: 0, yMin: YMIN, yMax: YMAX, yTicks: Y_TICKS, series: [
    { k: 'LB', t: TS, m: I_LB, hi: I_LB_HI, lo: I_LB_LO },
    { k: 'MD', t: TE, m: I_MD, halo: true },
    { k: 'AH', t: TE, m: I_AH, halo: true },
    { k: 'AM', t: TE, m: I_AM, halo: true },
    { k: 'LM', t: TE, m: I_LM, halo: true },
    ZERO,
    { k: 'WT', t: TS, m: I_WT, halo: true },
  ] },
  { r: 2, c: 1, yMin: YMIN, yMax: YMAX, yTicks: Y_TICKS, series: [
    { k: 'WT', t: TO, m: J_WT, hi: J_WT_HI, lo: J_WT_LO },
    { k: 'LB', t: TO, m: J_LB, hi: J_LB_HI, lo: J_LB_LO },
    { k: 'AM', t: TO, m: J_AM, hi: J_AM_HI, lo: J_AM_LO },
    { k: 'LM', t: TO, m: J_LM, hi: J_LM_HI, lo: J_LM_LO },
    { k: 'AH', t: TE, m: J_AH, halo: true },
    { k: 'MD', t: TE, m: MD_TE, hi: MD_TE_HI, lo: MD_TE_LO },
    ZERO,
  ] },
  { r: 2, c: 2, yMin: YMIN, yMax: YMAX, yTicks: Y_TICKS, series: [
    { k: 'MD', t: TE, m: MD_TE, hi: MD_TE_HI, lo: MD_TE_LO },
    { k: 'AH', t: TE, m: KL_AH, halo: true },
    { k: 'WT', t: TE, m: KL_WT, halo: true },
    { k: 'LB', t: TO, m: K_LB, hi: K_LB_HI, lo: K_LB_LO },
    { k: 'AM', t: TO, m: K_AM, hi: K_AM_HI, lo: K_AM_LO },
    { k: 'LM', t: TO, m: K_LM, hi: K_LM_HI, lo: K_LM_LO },
    ZERO,
  ] },
  { r: 2, c: 3, yMin: YMIN, yMax: YMAX, yTicks: Y_TICKS, series: [
    { k: 'MD', t: TE, m: MD_TE, hi: MD_TE_HI, lo: MD_TE_LO },
    { k: 'AH', t: TE, m: KL_AH, halo: true },
    { k: 'WT', t: TE, m: KL_WT, halo: true },
    { k: 'LB', t: TE, m: L_LB, halo: true },
    { k: 'AM', t: TO, m: L_AM, hi: L_AM_HI, lo: L_AM_LO },
    { k: 'LM', t: TO, m: L_LM, hi: L_LM_HI, lo: L_LM_LO },
    ZERO,
  ] },
];

// ---------- layout ----------
const COL_X = [223, 524, 825, 1126];
const ROW_Y = [178, 382, 586];
const PLOT_W = 254, PLOT_H = 170;
const PAD_L = 50, PAD_T = 12, PAD_R = 16, PAD_B = 39;
const CW = PAD_L + PLOT_W + PAD_R;
const CH = PAD_T + PLOT_H + PAD_B;

const AXIS = '#262626';
const TEXT = '#1a1a1a';
const GRID = 'rgba(0,0,0,0.055)';
const BAND_LINE = 'rgba(25,25,25,0.72)';

function pts(t: number[], v: number[]) {
  const n = Math.min(t.length, v.length);
  const out: { x: number; y: number }[] = [];
  for (let i = 0; i < n; i++) out.push({ x: t[i], y: v[i] });
  return out;
}

function buildDatasets(series: Series[]) {
  const ds: any[] = [];
  for (const s of series) {
    if (s.hi && s.lo) {
      ds.push({ data: pts(s.t, s.hi), borderColor: BAND_LINE, borderWidth: 0.8, fill: '+1', backgroundColor: FILLS[s.k] });
      ds.push({ data: pts(s.t, s.lo), borderColor: BAND_LINE, borderWidth: 0.8, fill: false });
    }
  }
  for (const s of series) {
    if (s.halo) {
      ds.push({ data: pts(s.t, s.m), borderColor: 'rgba(40,40,40,0.75)', borderWidth: 4.6, fill: false });
      ds.push({ data: pts(s.t, s.m), borderColor: TINTS[s.k], borderWidth: 3.0, fill: false });
    }
  }
  for (const s of series) {
    ds.push({ data: pts(s.t, s.m), borderColor: COLORS[s.k], borderWidth: s.k === 'Z' ? 2.4 : 1.5, fill: false });
  }
  ds.forEach((d, i) => {
    d.order = ds.length - i;
    d.pointRadius = 0;
    d.cubicInterpolationMode = 'monotone';
  });
  return ds;
}

function Panel({ def }: { def: PanelDef }) {
  const ref = useRef<HTMLCanvasElement>(null);
  useEffect(() => {
    if (!ref.current) return;
    const chart = new Chart(ref.current, {
      type: 'line',
      data: { datasets: buildDatasets(def.series) },
      options: {
        responsive: false,
        maintainAspectRatio: false,
        animation: false,
        events: [],
        layout: { padding: { top: PAD_T, right: PAD_R, bottom: 0, left: 0 } },
        plugins: { legend: { display: false }, tooltip: { enabled: false } },
        elements: { point: { radius: 0 } },
        scales: {
          x: {
            type: 'linear',
            min: -10,
            max: 210,
            afterBuildTicks: (s: any) => { s.ticks = X_TICKS.map((v) => ({ value: v })); },
            afterFit: (s: any) => { s.height = PAD_B; },
            ticks: { color: TEXT, font: { size: 17, family: FONT }, padding: -2, maxRotation: 0, autoSkip: false, callback: (v: any) => String(v) },
            grid: { color: GRID, lineWidth: 1, tickColor: AXIS, tickLength: 3, drawTicks: true },
            border: { display: true, color: AXIS, width: 1.5 },
            title: { display: true, text: 'Simulation time', color: TEXT, font: { size: 17, family: FONT }, padding: { top: 0, bottom: 0 } },
          },
          y: {
            type: 'linear',
            min: def.yMin,
            max: def.yMax,
            afterBuildTicks: (s: any) => { s.ticks = def.yTicks.map((v) => ({ value: v })); },
            afterFit: (s: any) => { s.width = PAD_L; },
            ticks: { color: TEXT, font: { size: 17, family: FONT }, padding: 0, autoSkip: false, callback: (v: any) => Number(v).toFixed(1) },
            grid: { color: GRID, lineWidth: 1, tickColor: AXIS, tickLength: 3, drawTicks: true },
            border: { display: true, color: AXIS, width: 1.5 },
            title: { display: true, text: 'Frequency', color: TEXT, font: { size: 17, family: FONT }, padding: { top: 3, bottom: 0 } },
          },
        },
      } as any,
    });
    return () => chart.destroy();
  }, [def]);
  return (
    <div style={{ position: 'absolute', left: COL_X[def.c] - PAD_L, top: ROW_Y[def.r] - PAD_T, width: CW, height: CH, zIndex: 2 }}>
      <canvas ref={ref} width={CW} height={CH} style={{ width: CW, height: CH, display: 'block' }} />
    </div>
  );
}

function Decorations() {
  const legendRows = [0, 1, 2];
  return (
    <svg width={1414} height={933} style={{ position: 'absolute', left: 0, top: 0, zIndex: 1, fontFamily: FONT }}>
      <defs>
        <linearGradient id="wedgeGrad" x1="233" y1="0" x2="1372" y2="0" gradientUnits="userSpaceOnUse">
          <stop offset="0" stopColor="#e20c15" />
          <stop offset="0.3" stopColor="#c8131d" />
          <stop offset="0.55" stopColor="#a11b29" />
          <stop offset="0.7" stopColor="#882535" />
          <stop offset="1" stopColor="#43434f" />
        </linearGradient>
        <linearGradient id="diffGrad" x1="0" y1="180" x2="0" y2="757" gradientUnits="userSpaceOnUse">
          <stop offset="0" stopColor="#2c2c2c" />
          <stop offset="1" stopColor="#fbfbfb" />
        </linearGradient>
      </defs>
      <rect x={11} y={11} width={1397} height={960} fill="none" stroke="#000" strokeWidth={3} />
      <text x={36} y={80} fontSize={56} fill="#000">- amino acids</text>

      <polygon points="233,125 1372,78 1372,172" fill="url(#wedgeGrad)" stroke="#111" strokeWidth={2} />
      <polygon points="830,125 862,99 862,151" fill="#000" />
      <polygon points="1032,92 1032,158 1070,125" fill="#000" />
      <text x={713} y={131} fontSize={21} fill="#fff" textAnchor="middle">decreased</text>
      <text x={950} y={119} fontSize={21} fill="#fff" textAnchor="middle">Experimentally</text>
      <text x={950} y={145} fontSize={21} fill="#fff" textAnchor="middle">determined</text>
      <text x={1187} y={131} fontSize={21} fill="#fff" textAnchor="middle">increased</text>

      <polygon points="153,180 168,757 134,757" fill="url(#diffGrad)" stroke="#000" strokeWidth={2} />
      <text transform="translate(65,467) rotate(-90)" fontSize={44} textAnchor="middle" fill="#000">Diffusion</text>
      {DIFFUSION.map((d, i) => (
        <text key={d} transform={`translate(117,${[255, 477, 683][i]}) rotate(-90)`} fontSize={37} textAnchor="middle" fill="#000">{d}</text>
      ))}

      {RATIOS.map((r, i) => (
        <text key={r} x={[360, 659, 956, 1256][i]} y={850} fontSize={48} textAnchor="middle" fill="#000">{r}</text>
      ))}
      <text x={803} y={913} fontSize={44} textAnchor="middle" fill="#000">Benefit-to-cost ratio</text>

      <rect x={38} y={842} width={253} height={65} fill="#fff" stroke="#000" strokeWidth={2} />
      {legendRows.map((row) => (
        <g key={row}>
          <rect x={44} y={848 + row * 20} width={27} height={10} fill={LEGEND_COLORS[row]} />
          <text x={78} y={[863, 881, 899][row]} fontSize={19.5} fontStyle={row === 0 ? 'normal' : 'italic'} fill="#000">{STRAINS[row]}</text>
          <rect x={140} y={848 + row * 20} width={27} height={10} fill={LEGEND_COLORS[row + 3]} />
          <text x={176} y={[862, 880, 898][row]} fontSize={19.5} fontStyle="italic" fill="#000">{STRAINS[row + 3]}</text>
        </g>
      ))}
    </svg>
  );
}

export default function App() {
  return (
    <div style={{ position: 'absolute', left: 0, top: 0, width: 1414, height: 933, overflow: 'hidden', background: '#fff' }}>
      <Decorations />
      {PANELS.map((p, i) => <Panel key={i} def={p} />)}
    </div>
  );
}
